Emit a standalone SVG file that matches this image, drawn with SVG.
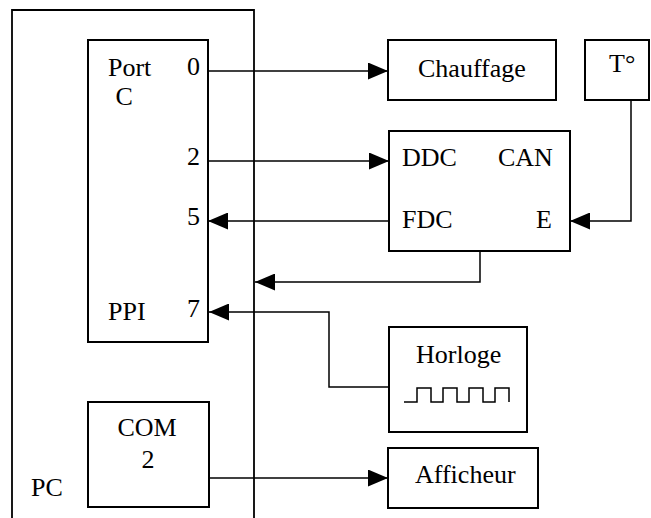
<svg xmlns="http://www.w3.org/2000/svg" width="651" height="518" viewBox="0 0 651 518">
<style>
.box{fill:#fff;stroke:#000;stroke-width:2}
.ln{fill:none;stroke:#000;stroke-width:1.5}
text{font-family:"Liberation Serif","Times New Roman",serif;font-size:26px;fill:#000}
</style>
<defs>
<marker id="ah" markerWidth="20" markerHeight="17" refX="20" refY="8.5" orient="auto" markerUnits="userSpaceOnUse">
<path d="M0,0 L20,8.5 L0,17 Z" fill="#000"/>
</marker>
</defs>
<g id="pc">
<path class="ln" d="M12,520 V10 H254 V520" style="stroke-width:1.8"/>
<text x="31" y="496">PC</text>
</g>
<g id="ppi">
<rect class="box" x="88" y="40" width="120" height="302"/>
<text x="108" y="76">Port</text>
<text x="115.5" y="105">C</text>
<text x="187" y="75">0</text>
<text x="187" y="165">2</text>
<text x="187" y="225">5</text>
<text x="187" y="317">7</text>
<text x="108" y="320">PPI</text>
</g>
<g id="com">
<rect class="box" x="88" y="402" width="121" height="105"/>
<text x="117.5" y="436">COM</text>
<text x="141.5" y="468">2</text>
</g>
<g id="chauffage">
<rect class="box" x="388" y="40" width="168" height="60"/>
<text x="418" y="77">Chauffage</text>
</g>
<g id="temp">
<rect class="box" x="585" y="40" width="64" height="60"/>
<text x="609" y="72">T°</text>
</g>
<g id="can">
<rect class="box" x="389" y="131" width="181" height="120"/>
<text x="402" y="166">DDC</text>
<text x="498" y="166">CAN</text>
<text x="402" y="228">FDC</text>
<text x="536" y="228">E</text>
</g>
<g id="horloge">
<rect class="box" x="389" y="327" width="138" height="105"/>
<text x="416" y="363">Horloge</text>
<path class="ln" d="M404,402 H417 V388 H431 V402 H443 V388 H457 V402 H469 V388 H483 V402 H495 V388 H509 V402"/>
</g>
<g id="afficheur">
<rect class="box" x="388" y="448" width="150" height="60"/>
<text x="415" y="483">Afficheur</text>
</g>
<g id="connectors">
<path class="ln" d="M208,71 H388" marker-end="url(#ah)"/>
<path class="ln" d="M208,161 H389" marker-end="url(#ah)"/>
<path class="ln" d="M389,221 H208" marker-end="url(#ah)"/>
<path class="ln" d="M631,100 V221 H570" marker-end="url(#ah)"/>
<path class="ln" d="M480,251 V282 H255" marker-end="url(#ah)"/>
<path class="ln" d="M389,387 H329 V312 H209" marker-end="url(#ah)"/>
<path class="ln" d="M209,478 H388" marker-end="url(#ah)"/>
</g>
</svg>
